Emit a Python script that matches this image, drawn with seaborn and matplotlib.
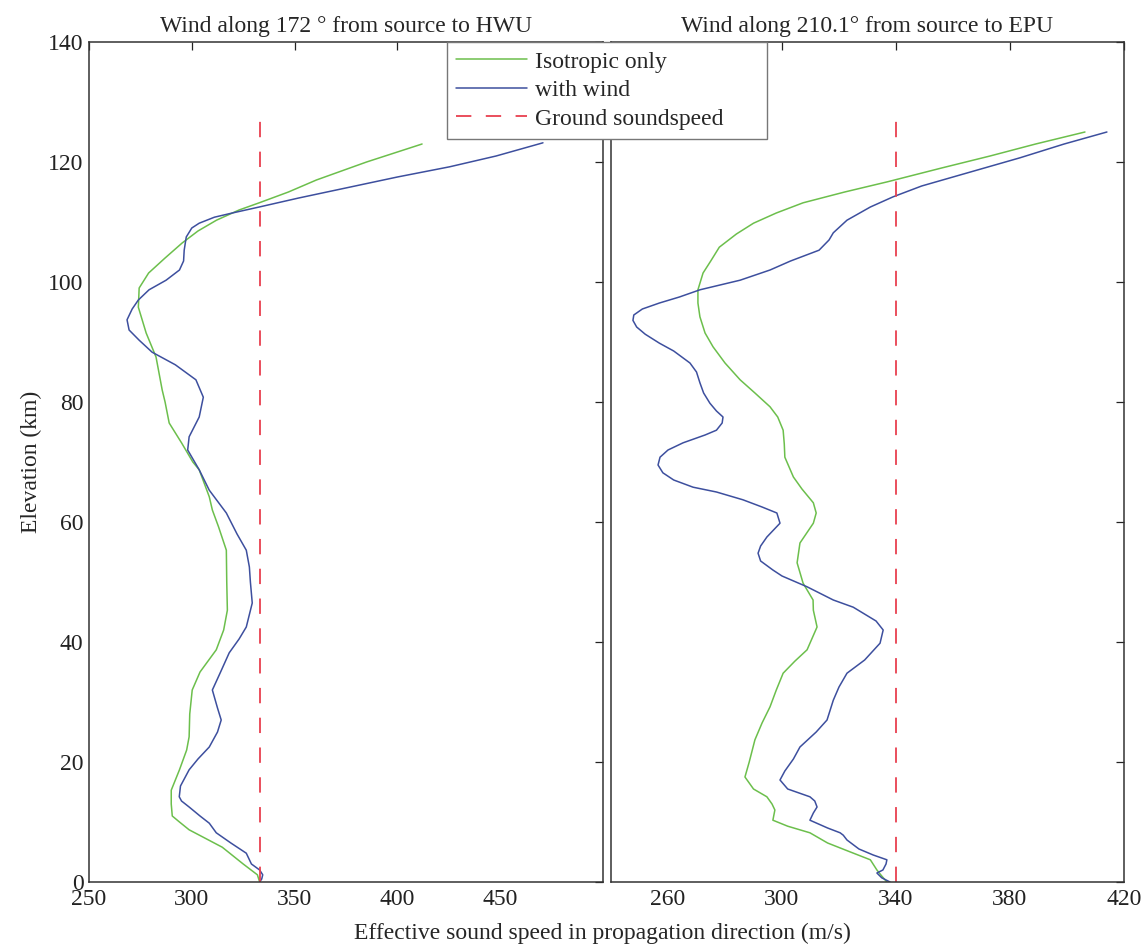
import numpy as np
import pandas as pd
import matplotlib
matplotlib.use("Agg")
import matplotlib.pyplot as plt
import seaborn as sns

# ---------------- data ----------------
# Left panel: wind along 172 deg (HWU)
hwu_iso_km = [0, 1.2, 3, 5.8, 8.7, 10, 11, 13, 15.3, 17, 18.7, 22, 24.2, 28, 32, 35,
              38.7, 42, 45.3, 50, 55.3, 59.2, 62, 64.2, 68.7, 70, 73.2, 76.5, 80, 82,
              87.5, 91.5, 95.8, 99, 101.5, 104, 106.5, 108.5, 110.3, 112, 113.2, 115,
              117, 120, 123]
hwu_iso_c = [333, 331.9, 325, 314.8, 298.7, 294, 290.5, 290, 290, 292, 294, 297.5,
             298.7, 299, 300.2, 304, 311.9, 315.5, 317.3, 317, 316.8, 313, 310, 308.5,
             303.6, 300.5, 295, 289, 287, 285.6, 282.6, 277.8, 274, 274.4, 279, 287,
             295.3, 303, 312, 323, 332.8, 347, 360.6, 385, 412]

hwu_wind_km = [0, 0.5, 1.2, 2, 3, 4.8, 6.5, 8.2, 9.8, 11, 12.5, 13.5, 14.2, 16, 18.7,
               20.5, 22.5, 25, 27, 29, 32, 35, 38.2, 40.5, 42.5, 46.5, 50, 52.5, 55.3,
               58, 61.5, 65.3, 68.7, 72, 74.2, 77.5, 80.8, 83.7, 86.2, 88.3, 90.3, 92,
               93.7, 95.5, 97, 98.7, 100.3, 102, 103.5, 105.3, 107.5, 109, 109.8, 110.8,
               111.5, 112.5, 114, 115.8, 117.5, 119.2, 121, 123.2]
hwu_wind_c = [333, 334, 334.5, 333, 329, 326.5, 319, 311.9, 308.5, 304, 298.7, 295,
              293.9, 294.5, 298.7, 303, 308.5, 312.5, 314.3, 312.5, 310, 314, 318.2,
              323, 326.5, 329.4, 328.5, 328, 326.5, 322, 316.8, 308.5, 303.6, 298,
              298.7, 303.6, 305.6, 302, 292, 280.7, 274.4, 269.5, 268.5, 271, 274,
              279.2, 287.5, 294, 296, 296.3, 297.3, 300, 303.6, 311, 319.7, 332.8, 352,
              376.7, 400, 425.4, 448, 470.8]

# Right panel: wind along 210.1 deg (EPU)
epu_iso_km = [0, 1, 2, 3.7, 5, 6.5, 8.2, 9.3, 10.3, 12, 13, 14.2, 15.5, 17.5, 20, 23.7,
              26.5, 29.2, 32, 34.8, 36.8, 38.7, 42.5, 45.3, 47, 49.8, 53.2, 56.5, 59.8,
              61.5, 63.2, 65.5, 67.5, 70.8, 73, 75.3, 77.5, 79.2, 81.5, 83.7, 86.5,
              89.2, 91.5, 94.2, 96.5, 98.7, 101.5, 103.5, 105.8, 108, 109.8, 111.5,
              113.2, 115, 116.7, 119, 121, 123, 125]
epu_iso_c = [336.8, 335, 333.3, 331, 324, 316, 309.8, 302, 296.8, 297.5, 296.5, 294.7,
             290, 287, 288.5, 290.5, 293, 295.8, 298, 300.4, 304.5, 308.8, 312.3, 311,
             310.9, 307.4, 305.3, 306.3, 311, 312, 311, 307, 304, 301, 300.8, 300.4,
             298.5, 295.8, 290.5, 285.3, 280, 275.8, 273, 271.2, 270.5, 270.5, 272.3,
             275, 278, 284, 290, 298, 307.4, 322, 337, 356, 373, 389, 406.3]

epu_wind_km = [0, 0.7, 1.5, 2, 3, 3.7, 4.5, 5.5, 7, 7.8, 8.2, 9, 10.3, 11.5, 12.5, 13.5,
               14.2, 15.5, 17, 18.5, 20.5, 22.5, 25, 27, 30.3, 32.5, 34.8, 37, 39.8, 42,
               43.5, 45.8, 47, 49.2, 51, 52, 53.5, 54.8, 56, 57.5, 59.8, 61.5, 62.5,
               63.7, 65, 65.8, 67, 68.2, 69.5, 70.8, 72, 73.2, 74.5, 75.3, 76.5, 77.5,
               78.5, 79.8, 81.5, 83.2, 85, 86.5, 88.5, 89.8, 91.3, 92.5, 93.6, 94.5,
               95.5, 96.5, 97.5, 98.7, 100.3, 102, 103.5, 105.3, 107, 108.2, 110.3,
               112.5, 114.2, 116, 117.5, 120.7, 123, 125]
epu_wind_c = [337.9, 335, 333.3, 335.4, 336.5, 336.8, 332, 327, 322.8, 321.5, 320.4,
              316, 309.8, 311, 312.3, 311.5, 309.8, 302, 299.3, 301, 304, 306.3, 312,
              315.8, 318, 320, 322.8, 329, 334.4, 335.5, 333, 325, 318, 308.8, 300,
              296.8, 292.5, 291.6, 292.5, 294.7, 299.3, 298.2, 293, 286.3, 277, 268.8,
              262, 258.2, 256.5, 257.2, 260, 265.3, 273, 277, 279, 279.3, 277, 274.7,
              272.5, 271.2, 270, 267.7, 262, 257, 252, 249, 247.7, 248, 251, 257, 264,
              271.2, 285.3, 295.8, 303, 313, 316.5, 318, 322.8, 331, 339, 349, 360,
              383.5, 399, 414]

ground_km = [0, 128]
hwu_ground_c = [333.3, 333.3]
epu_ground_c = [340, 340]

titles = ["Wind along 172 ° from source to HWU", "Wind along 210.1° from source to EPU"]
legend_labels = ["Isotropic only", "with wind", "Ground soundspeed"]
hwu_xticks = [250, 300, 350, 400, 450]
epu_xticks = [260, 300, 340, 380, 420]
yticks = [0, 20, 40, 60, 80, 100, 120, 140]

# ---------------- style ----------------
sns.set_style("white")
plt.rcParams["font.family"] = ["Liberation Serif", "DejaVu Serif"]

GREEN = "#6cbf4c"
BLUE = "#3d4f9e"
RED = "#e8404f"
FS = 17

W, H = 1145, 949
fig = plt.figure(figsize=(W / 100, H / 100), dpi=100)
bottom = 1 - 882 / H
top = 1 - 42 / H
ax1 = fig.add_axes([89 / W, bottom, (603 - 89) / W, top - bottom])
ax2 = fig.add_axes([611 / W, bottom, (1124 - 611) / W, top - bottom])

panels = [
    (ax1, hwu_iso_km, hwu_iso_c, hwu_wind_km, hwu_wind_c, hwu_ground_c, (250, 500), hwu_xticks),
    (ax2, epu_iso_km, epu_iso_c, epu_wind_km, epu_wind_c, epu_ground_c, (240, 420), epu_xticks),
]

for i, (ax, ik, ic, wk, wc, gc, xlim, xt) in enumerate(panels):
    d_iso = pd.DataFrame({"c": ic, "z": ik})
    d_wind = pd.DataFrame({"c": wc, "z": wk})
    d_g = pd.DataFrame({"c": gc, "z": ground_km})
    sns.lineplot(data=d_iso, x="c", y="z", sort=False, estimator=None, color=GREEN,
                 lw=1.1, ax=ax, label=legend_labels[0], legend=False)
    sns.lineplot(data=d_wind, x="c", y="z", sort=False, estimator=None, color=BLUE,
                 lw=1.1, ax=ax, label=legend_labels[1], legend=False)
    sns.lineplot(data=d_g, x="c", y="z", sort=False, estimator=None, color=RED,
                 lw=1.3, ax=ax, label=legend_labels[2], legend=False)
    ax.lines[-1].set_dashes((8.5, 8.0))
    ax.set_xlim(*xlim)
    ax.set_ylim(0, 140)
    ax.set_xticks(xt)
    ax.set_yticks(yticks)
    ax.set_xlabel("")
    ax.set_ylabel("")
    ax.set_title(titles[i], fontsize=FS, pad=7)
    ax.tick_params(direction="in", length=6, width=0.9, top=True, right=True,
                   labelsize=FS, colors="#222222")
    ax.tick_params(axis="x", pad=5)
    ax.tick_params(axis="y", pad=4)
    for s in ax.spines.values():
        s.set_color("#333333")
        s.set_linewidth(1.1)

ax2.tick_params(labelleft=False)
ax1.set_ylabel("Elevation (km)", fontsize=FS, labelpad=4)

fig.text(602 / W, 1 - 933 / H, "Effective sound speed in propagation direction (m/s)",
         ha="center", va="center", fontsize=FS)

handles = ax1.get_lines()[:3]
leg_top = 1 - 42 / H
leg = fig.legend(handles, legend_labels, loc="upper left",
                 bbox_to_anchor=(447 / W, leg_top - 0.2, 320 / W, 0.2), mode="expand",
                 borderaxespad=0, fontsize=FS, frameon=True, fancybox=False,
                 framealpha=1, edgecolor="#777777", handlelength=3.0,
                 handletextpad=0.35, labelspacing=0.3, borderpad=0.38)
leg.get_frame().set_linewidth(1.0)

fig.savefig("out.png", dpi=100)
